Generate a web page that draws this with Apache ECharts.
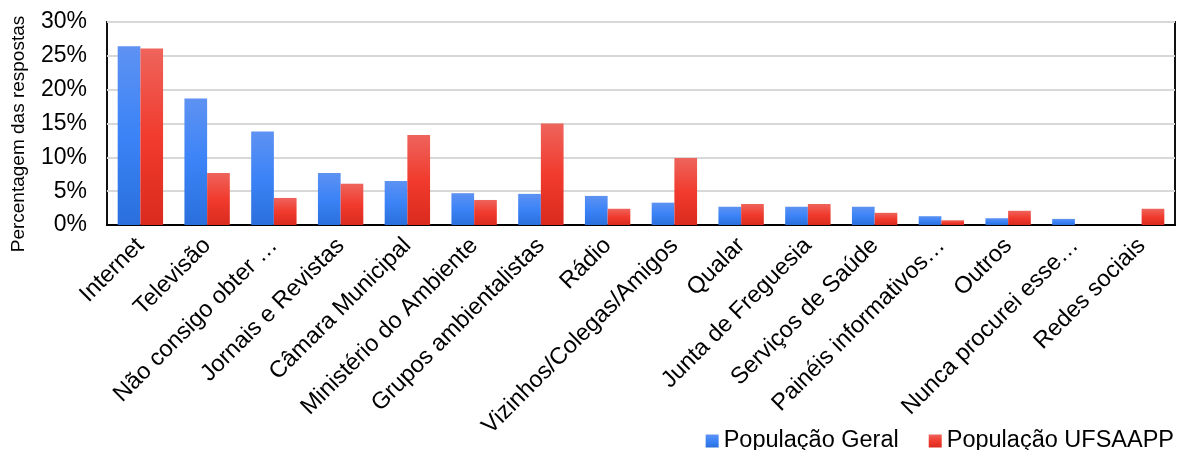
<!DOCTYPE html>
<html>
<head>
<meta charset="utf-8">
<script src="https://cdn.jsdelivr.net/npm/echarts@6/dist/echarts.min.js"></script>
<style>
  html, body { margin: 0; padding: 0; background: #fff; }
  #chart { width: 1179px; height: 450px; }
</style>
</head>
<body>
<div id="chart"></div>
<script>
// Fontes de informação ambiental (% das respostas)
const categories = [
  'Internet', 'Televisão', 'Não consigo obter …', 'Jornais e Revistas',
  'Câmara Municipal', 'Ministério do Ambiente', 'Grupos ambientalistas',
  'Rádio', 'Vizinhos/Colegas/Amigos', 'Qualar', 'Junta de Freguesia',
  'Serviços de Saúde', 'Painéis informativos…', 'Outros',
  'Nunca procurei esse…', 'Redes sociais'
];
const populacaoGeral = [26.4, 18.7, 13.8, 7.7, 6.5, 4.7, 4.6, 4.3, 3.3, 2.7, 2.7, 2.7, 1.3, 1.0, 0.9, 0.0];
const populacaoUFSAAPP = [26.1, 7.7, 4.0, 6.1, 13.3, 3.7, 15.0, 2.4, 9.9, 3.1, 3.1, 1.8, 0.7, 2.1, 0.0, 2.4];
const yTicks = [0, 5, 10, 15, 20, 25, 30];
const seriesNames = ['População Geral', 'População UFSAAPP'];

const FONT = '"Liberation Sans", Arial, sans-serif';

const blueFill = new echarts.graphic.LinearGradient(0, 0, 0, 1, [
  { offset: 0, color: '#5e92f2' },
  { offset: 0.5, color: '#3b83f7' },
  { offset: 1, color: '#2a6fdc' }
]);
const redFill = new echarts.graphic.LinearGradient(0, 0, 0, 1, [
  { offset: 0, color: '#ee645c' },
  { offset: 0.5, color: '#f13b2e' },
  { offset: 1, color: '#da2a1e' }
]);

const chart = echarts.init(document.getElementById('chart'), null, { renderer: 'canvas' });

chart.setOption({
  backgroundColor: '#ffffff',
  animation: false,
  textStyle: { fontFamily: FONT, color: '#000' },
  grid: {
    left: 107, right: 4, top: 22, bottom: 225,
    show: true, borderColor: '#111', borderWidth: 2, backgroundColor: 'transparent'
  },
  legend: {
    right: 0, top: 424,
    itemWidth: 13, itemHeight: 13, itemGap: 30,
    icon: 'rect',
    textStyle: { fontFamily: FONT, fontSize: 23.5, color: '#000' },
    data: seriesNames
  },
  graphic: [{
    type: 'text',
    x: 19, y: 134,
    rotation: Math.PI / 2,
    style: {
      text: 'Percentagem das respostas',
      font: '19px ' + FONT,
      fill: '#000',
      align: 'center',
      verticalAlign: 'middle'
    }
  }],
  xAxis: {
    type: 'category',
    data: categories,
    axisLine: { show: true, lineStyle: { color: '#000', width: 2 } },
    axisTick: { show: false },
    axisLabel: {
      interval: 0, rotate: 45, margin: 17,
      fontFamily: FONT, fontSize: 23.5, color: '#000'
    }
  },
  yAxis: {
    type: 'value',
    min: yTicks[0], max: yTicks[yTicks.length - 1], interval: 5,
    axisLine: { show: false },
    axisTick: { show: false },
    axisLabel: {
      margin: 20, fontFamily: FONT, fontSize: 23, color: '#000',
      formatter: v => v + '%'
    },
    splitLine: { show: true, lineStyle: { color: '#d8d8d8', width: 2 } }
  },
  series: [
    {
      name: seriesNames[0], type: 'bar', data: populacaoGeral,
      barGap: '0%', barCategoryGap: '32%',
      itemStyle: { color: blueFill }
    },
    {
      name: seriesNames[1], type: 'bar', data: populacaoUFSAAPP,
      barGap: '0%', barCategoryGap: '32%',
      itemStyle: { color: redFill }
    }
  ]
});
</script>
</body>
</html>
